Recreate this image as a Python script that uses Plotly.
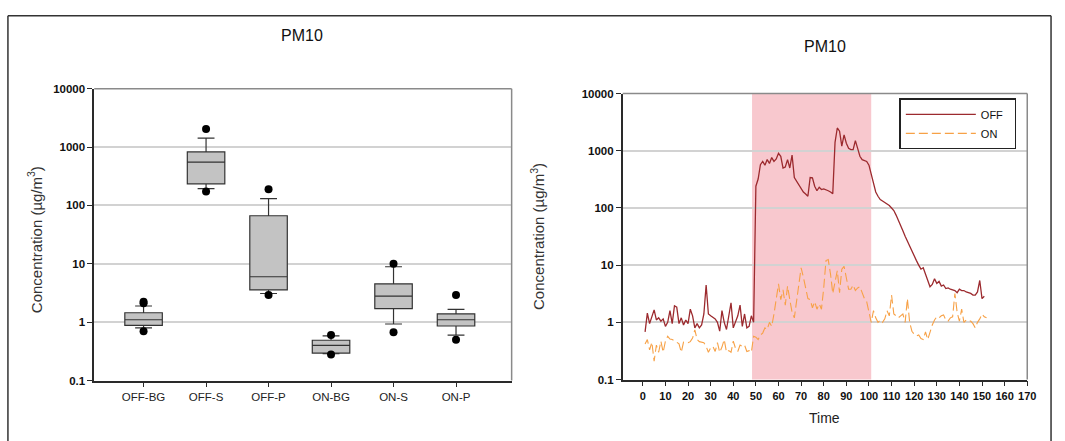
import plotly.graph_objects as go

W, H = 1065, 441

# ---------------- data: box plot (left) ----------------
box_categories = ["OFF-BG", "OFF-S", "OFF-P", "ON-BG", "ON-S", "ON-P"]
box_q1 = [0.88, 234, 3.56, 0.295, 1.71, 0.86]
box_median = [1.1, 550, 6.0, 0.40, 2.8, 1.1]
box_q3 = [1.45, 826, 66.5, 0.49, 4.54, 1.39]
box_lower_whisker = [0.80, 194, 3.1, 0.29, 0.93, 0.60]
box_upper_whisker = [1.89, 1428, 131, 0.58, 8.9, 1.66]
outlier_categories = ["OFF-BG", "OFF-BG", "OFF-BG", "OFF-S", "OFF-S", "OFF-P", "OFF-P",
                      "ON-BG", "ON-BG", "ON-S", "ON-S", "ON-P", "ON-P"]
outlier_values = [2.23, 2.1, 0.70, 2037, 173, 189, 2.91, 0.60, 0.28, 10.0, 0.67, 2.91, 0.50]

# ---------------- data: time series (right) ----------------
off_values = [
    0.68, 1.45, 0.95, 1.25, 1.65, 1.1, 1.2, 1.05, 1.15, 0.85,
    1.0, 1.6, 0.95, 1.95, 1.85, 0.95, 1.2, 0.9, 1.1, 0.95,
    1.7, 1.3, 0.8, 0.95, 0.8, 0.9, 1.4, 4.5, 1.4, 1.3,
    1.2, 1.15, 1.0, 0.7, 1.6, 1.0, 0.75, 1.3, 2.2, 0.8,
    1.0, 1.3, 2.0, 0.85, 1.4, 0.8, 0.85, 1.3, 1.0, 240,
    320, 570, 650, 560, 700, 600, 760, 650, 720, 900,
    800, 500, 520, 700, 500, 840, 340, 290, 260, 215,
    190, 175, 160, 340, 335, 240, 200, 230, 210, 215,
    210, 200, 190, 178, 1400, 2500, 2200, 1200, 1900, 1350,
    1100, 1050, 1050, 1500, 1100, 800, 700, 680, 650, 560,
    380, 260, 190, 160, 140, 132, 125, 118, 110, 100,
    90, 75, 62, 50, 40, 32, 26, 21, 17, 14,
    12, 10, 8.5, 9.0, 7.0, 5.5, 4.2, 4.6, 5.8, 4.8,
    5.2, 4.3, 4.5, 3.9, 4.0, 3.8, 3.7, 3.6, 3.3, 3.8,
    3.6, 3.6, 3.4, 3.3, 3.2, 3.0, 3.0, 3.4, 5.4, 2.6,
    2.85,
]
off_time = list(range(1, len(off_values) + 1))

on_values = [
    0.42, 0.5, 0.33, 0.45, 0.21, 0.4, 0.3, 0.47, 0.3, 0.47,
    0.57, 0.51, 0.5, 0.48, 0.45, 0.42, 0.3, 0.45, 0.45, 0.44,
    0.46, 0.53, 0.74, 0.5, 0.46, 0.45, 0.44, 0.38, 0.3, 0.36,
    0.38, 0.31, 0.44, 0.3, 0.37, 0.5, 0.3, 0.32, 0.3, 0.47,
    0.35, 0.31, 0.4, 0.38, 0.4, 0.31, 0.32, 0.3, 0.57, 0.55,
    0.5, 0.6, 0.65, 0.8, 0.75, 1.0, 0.85, 1.4, 2.6, 4.7,
    2.5, 3.7, 2.0, 4.3, 2.5, 1.5, 1.2, 2.3, 5.0, 9.0,
    6.2, 4.0, 2.6, 2.5, 1.8, 2.3, 1.7, 2.1, 1.7, 4.0,
    12, 12.5, 7.0, 3.2, 5.0, 8.0, 3.3, 8.5, 9.5, 5.5,
    3.8, 3.8, 4.5, 3.6, 4.0, 4.2, 3.3, 2.6, 2.3, 1.4,
    1.0, 1.6, 1.2, 1.0, 1.1, 1.0, 1.15, 1.6, 1.3, 3.0,
    1.4, 1.3, 1.2, 1.3, 1.4, 1.0, 2.6, 1.0, 0.7, 0.62,
    0.58, 0.6, 0.52, 0.5, 0.68, 0.5, 0.68, 0.9, 1.1, 1.25,
    1.2, 1.3, 1.35, 1.1, 1.05, 1.2, 1.25, 3.2, 1.5, 1.05,
    1.7, 1.0, 1.1, 1.05, 1.05, 0.95, 0.8, 1.0, 1.15, 1.4,
    1.25, 1.2,
]
on_time = list(range(1, len(on_values) + 1))

shade_start, shade_end = 48.3, 101.0

y_tickvals = [0.1, 1, 10, 100, 1000, 10000]
y_ticktext = ["0.1", "1", "10", "100", "1000", "10000"]
time_ticks = list(range(0, 171, 10))

# ---------------- styling ----------------
FONT = "Arial, 'Liberation Sans', sans-serif"
OFF_COLOR = "#9c2a2e"
ON_COLOR = "#f7a146"
GRID = "#d2d2d2"
FRAME_GRAY = "#8a8a8a"
AXIS_DARK = "#2a2a2a"

fig = go.Figure()

fig.add_trace(go.Box(
    x=box_categories, q1=box_q1, median=box_median, q3=box_q3,
    lowerfence=box_lower_whisker, upperfence=box_upper_whisker,
    boxpoints=False, fillcolor="#c3c3c3",
    line=dict(color="#333333", width=1.2), width=0.6, whiskerwidth=0.45,
    xaxis="x", yaxis="y", showlegend=False, hoverinfo="skip",
))
fig.add_trace(go.Scatter(
    x=outlier_categories, y=outlier_values, mode="markers",
    marker=dict(color="black", size=8), xaxis="x", yaxis="y",
    showlegend=False, hoverinfo="skip",
))

fig.add_trace(go.Scatter(
    x=off_time, y=off_values, mode="lines", name="OFF\u00a0\u00a0",
    line=dict(color=OFF_COLOR, width=1.3), xaxis="x2", yaxis="y2",
))
fig.add_trace(go.Scatter(
    x=on_time, y=on_values, mode="lines", name="ON",
    line=dict(color=ON_COLOR, width=1.1, dash="9px,4px"), xaxis="x2", yaxis="y2",
))

tickfont_num = dict(family=FONT, size=11.5, color="#111111", weight="bold")

common_y = dict(
    type="log", range=[-1, 4], tickvals=y_tickvals, ticktext=y_ticktext,
    showgrid=True, gridcolor=GRID, gridwidth=1.5, zeroline=False,
    showline=True, linecolor=AXIS_DARK, linewidth=1.5,
    ticks="outside", ticklen=5, tickcolor=AXIS_DARK, tickwidth=1.2,
    tickfont=tickfont_num,
)

fig.update_layout(
    width=W, height=H,
    margin=dict(l=0, r=0, t=0, b=0),
    paper_bgcolor="white", plot_bgcolor="rgba(0,0,0,0)",
    font=dict(family=FONT, color="#222222"),
    xaxis=dict(
        domain=[95 / W, 516 / W], type="category",
        categoryorder="array", categoryarray=box_categories,
        range=[-0.79, 5.89], showgrid=False, zeroline=False,
        showline=True, linecolor=AXIS_DARK, linewidth=1.5,
        ticks="outside", ticklen=5, tickcolor=AXIS_DARK, tickwidth=1.2,
        tickfont=dict(family=FONT, size=11.5, color="#222222"),
    ),
    yaxis=dict(domain=[1 - 385 / H, 1 - 85 / H], anchor="x", **common_y),
    xaxis2=dict(
        domain=[628 / W, 1036 / W], anchor="y2", range=[-8.9, 170],
        tickvals=time_ticks, showgrid=False, zeroline=False,
        showline=True, linecolor=AXIS_DARK, linewidth=1.5,
        ticks="outside", ticklen=5, tickcolor=AXIS_DARK, tickwidth=1.2,
        tickfont=dict(family=FONT, size=11, color="#111111", weight="bold"),
    ),
    yaxis2=dict(domain=[1 - 384 / H, 1 - 90 / H], anchor="x2", **common_y),
    showlegend=True,
    legend=dict(
        x=907 / W, y=1 - 95 / H, xanchor="left", yanchor="top",
        bgcolor="white", bordercolor="#222222", borderwidth=1.5,
        font=dict(family=FONT, size=11, color="#111111"),
        itemwidth=70, tracegroupgap=0,
    ),
)

shapes = [
    # shaded period (below gridlines)
    dict(type="rect", xref="x2", yref="y2 domain", x0=shade_start, x1=shade_end,
         y0=0, y1=1, fillcolor="#f8c8ce", line=dict(width=0), layer="below"),
]
# gray top and right frame edges of both plots
for xr, yr in (("x domain", "y domain"), ("x2 domain", "y2 domain")):
    shapes.append(dict(type="line", xref=xr, yref=yr, x0=0, x1=1, y0=1, y1=1,
                       line=dict(color=FRAME_GRAY, width=1.5), layer="above"))
    shapes.append(dict(type="line", xref=xr, yref=yr, x0=1, x1=1, y0=0, y1=1,
                       line=dict(color=FRAME_GRAY, width=1.5), layer="above"))
# outer border of the figure
shapes.append(dict(type="line", xref="paper", yref="paper", x0=8 / W, x1=8 / W,
                   y0=-0.05, y1=1 - 10 / H, line=dict(color="#333333", width=1.5)))
shapes.append(dict(type="line", xref="paper", yref="paper", x0=8 / W, x1=1060 / W,
                   y0=1 - 10 / H, y1=1 - 10 / H, line=dict(color="#333333", width=1.5)))
shapes.append(dict(type="line", xref="paper", yref="paper", x0=1060 / W, x1=1060 / W,
                   y0=-0.05, y1=1 - 10 / H, line=dict(color="#333333", width=1.5)))
fig.update_layout(shapes=shapes)

title_font = dict(family=FONT, size=16, color="#111111")
label_font = dict(family=FONT, size=15, color="#333333")
annotations = [
    dict(text="PM10", x=305 / W, y=1 - 30 / H, xref="paper", yref="paper",
         showarrow=False, font=title_font, xanchor="center", yanchor="middle"),
    dict(text="PM10", x=832 / W, y=1 - 42 / H, xref="paper", yref="paper",
         showarrow=False, font=title_font, xanchor="center", yanchor="middle"),
    dict(text="Concentration (µg/m<sup>3</sup>)", x=35 / W, y=1 - 240 / H,
         xref="paper", yref="paper", showarrow=False, textangle=-90,
         font=label_font, xanchor="center", yanchor="middle"),
    dict(text="Concentration (µg/m<sup>3</sup>)", x=542 / W, y=1 - 237 / H,
         xref="paper", yref="paper", showarrow=False, textangle=-90,
         font=label_font, xanchor="center", yanchor="middle"),
    dict(text="Time", x=832 / W, y=1 - 424 / H, xref="paper", yref="paper",
         showarrow=False, font=dict(family=FONT, size=14, color="#222222"),
         xanchor="center", yanchor="middle"),
]
fig.update_layout(annotations=annotations)

# remove the browser's default 8px body margin so the figure fills the window exactly
fig.write_html("out.html", config={"displayModeBar": False},
               post_script="document.body.style.margin='0';")
